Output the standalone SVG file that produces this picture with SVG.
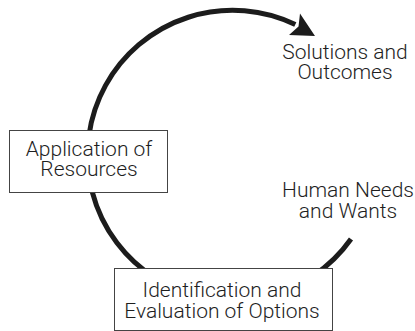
<svg xmlns="http://www.w3.org/2000/svg" width="415" height="331" viewBox="0 0 415 331">
  <style>
    .lbl { font-family: Roboto, "Liberation Sans", Arial, sans-serif; font-weight: 300; font-size: 21px; fill: #1e1e1e; text-anchor: middle; }
    .box { fill: #ffffff; stroke: #444444; stroke-width: 1; }
    .cycle { fill: none; stroke: #1c1c1c; stroke-width: 5; }
    .head { fill: #1c1c1c; stroke: none; }
  </style>
  <rect width="415" height="331" fill="#ffffff"/>
  <g id="connectors">
    <path class="cycle" d="M 351 239 A 145 145 0 1 1 295.3 24.6"/>
    <polygon class="head" points="315,36 289,35 298.5,26.5 300,13.5"/>
  </g>
  <g id="node-solutions">
    <text class="lbl" x="345" y="58.5">Solutions and</text>
    <text class="lbl" x="345" y="79">Outcomes</text>
  </g>
  <g id="node-needs">
    <text class="lbl" x="348" y="197">Human Needs</text>
    <text class="lbl" x="348" y="217.5">and Wants</text>
  </g>
  <g id="node-application">
    <rect class="box" x="9.5" y="130.5" width="158" height="62"/>
    <text class="lbl" x="89" y="155.5">Application of</text>
    <text class="lbl" x="89" y="176">Resources</text>
  </g>
  <g id="node-identification">
    <rect class="box" x="114.5" y="268.5" width="218" height="62"/>
    <text class="lbl" x="222" y="297">Identification and</text>
    <text class="lbl" x="222" y="317.5">Evaluation of Options</text>
  </g>
</svg>
